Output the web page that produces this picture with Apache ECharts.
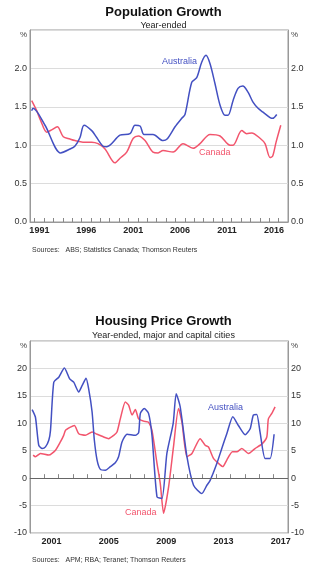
<!DOCTYPE html>
<html>
<head>
<meta charset="utf-8">
<script src="https://cdn.jsdelivr.net/npm/echarts@6/dist/echarts.min.js"></script>
<style>
html,body{margin:0;padding:0;background:#fff;}
#c{width:327px;height:572px;}
</style>
</head>
<body>
<div id="c"></div>
<script>
// ---- Population growth (year-ended, %) ----
var popAusYears = [1990.68,1990.82,1992.10,1993.77,1994.76,1995.30,1995.83,1996.26,1997.08,1997.61,1998.25,1998.68,2000.09,2001.16,2001.69,2002.23,2002.65,2003.61,2004.68,2005.11,2005.96,2006.67,2007.02,2007.74,2008.27,2008.80,2009.26,2009.69,2010.22,2010.76,2011.29,2011.61,2012.14,2012.67,2013.18,2013.74,2014.27,2014.81,2015.34,2016.09,2016.37,2016.80];
var popAusValues = [1.45,1.48,1.26,0.90,0.95,0.99,1.10,1.26,1.19,1.10,0.99,0.98,1.13,1.15,1.26,1.25,1.14,1.14,1.06,1.08,1.24,1.35,1.40,1.82,1.88,2.08,2.17,2.06,1.80,1.52,1.39,1.39,1.58,1.74,1.77,1.69,1.56,1.48,1.43,1.36,1.35,1.40];
var popCanYears = [1990.68,1991.21,1991.64,1992.28,1992.81,1993.41,1994.05,1994.76,1995.30,1996.15,1997.08,1997.75,1998.50,1999.56,2000.09,2000.81,2001.51,2002.05,2002.76,2003.61,2004.15,2004.68,2005.75,2006.81,2007.88,2008.62,2009.69,2010.76,2011.82,2012.14,2013.07,2013.60,2014.14,2015.02,2015.55,2016.09,2016.37,2016.73,2017.23];
var popCanValues = [1.58,1.45,1.32,1.17,1.20,1.24,1.11,1.08,1.06,1.04,1.04,1.02,0.95,0.77,0.83,0.91,1.09,1.12,1.06,0.91,0.90,0.93,0.91,1.02,0.96,1.02,1.14,1.12,1.00,1.00,1.19,1.15,1.16,1.09,1.02,0.84,0.86,1.04,1.26];

// ---- Housing price growth (year-ended, %) ----
var hpAusYears = [2000.15,2000.38,2000.61,2000.85,2001.08,2001.31,2001.43,2001.66,2002.01,2002.40,2002.77,2003.05,2003.40,2003.64,2003.91,2004.09,2004.33,2004.49,2004.68,2004.91,2005.26,2005.61,2005.95,2006.18,2006.42,2006.77,2007.35,2007.58,2007.70,2007.97,2008.27,2008.51,2008.86,2009.21,2009.55,2009.99,2010.20,2010.48,2010.95,2011.41,2011.99,2012.34,2012.57,2013.04,2013.38,2013.73,2014.15,2014.54,2015.01,2015.36,2015.58,2015.82,2016.05,2016.40,2016.75,2017.03];
var hpAusValues = [12.5,11.1,6.0,5.4,5.7,6.9,8.7,17.5,18.4,20.1,18.1,17.5,15.7,16.9,18.2,16.3,12.1,6.9,3.3,1.6,1.45,2.1,2.8,3.9,6.6,8.0,7.8,8.3,11.8,12.7,11.8,7.8,-3.4,-3.7,4.5,10.0,15.4,13.0,3.9,-1.3,-2.8,-1.3,-0.4,2.7,5.4,8.1,11.2,9.6,7.9,9.0,11.5,11.6,8.4,3.6,3.6,8.0];
var hpCanYears = [2000.22,2000.38,2000.73,2001.31,2001.78,2002.12,2002.35,2002.47,2002.82,2003.10,2003.40,2003.86,2004.33,2004.68,2005.14,2005.49,2005.84,2006.07,2006.30,2006.65,2006.88,2007.12,2007.35,2007.58,2007.92,2008.27,2008.51,2008.86,2009.09,2009.32,2009.67,2010.01,2010.36,2010.60,2010.95,2011.30,2011.87,2012.22,2012.45,2012.80,2013.15,2013.45,2013.73,2014.12,2014.43,2014.78,2015.24,2015.70,2016.17,2016.52,2016.63,2016.87,2017.10];
var hpCanValues = [4.2,3.9,4.5,4.2,5.1,6.6,7.8,8.7,9.3,9.6,8.1,7.8,8.4,8.0,7.5,7.2,7.8,8.4,10.8,13.9,13.3,11.5,12.5,10.8,10.4,10.2,8.7,2.7,-1.0,-6.4,-1.6,5.7,12.7,10.2,3.9,4.5,7.2,6.0,5.7,3.6,2.7,2.1,3.3,4.8,4.8,5.4,4.5,5.4,6.2,7.5,10.8,11.8,13.0];

// ---- axis ticks / labels ----
var popTickYears = [];
for (var y = 1991; y <= 2017; y++) popTickYears.push(y);
var popLabelYears = [1991, 1996, 2001, 2006, 2011, 2016];
var hpTickYears = [];
for (var y2 = 2001; y2 <= 2017; y2++) hpTickYears.push(y2);
var hpLabelYears = [2001, 2005, 2009, 2013, 2017];

var BLUE = '#4350c2';
var RED = '#f2556d';
var FONT = 'Liberation Sans, Arial, sans-serif';

function zip(a, b) { return a.map(function (v, i) { return [v, b[i]]; }); }

var chart = echarts.init(document.getElementById('c'), null, { renderer: 'canvas' });

function xAxisFor(gridIndex, min, max, ticks, labels) {
  return {
    type: 'value', gridIndex: gridIndex, min: min, max: max,
    axisLine: { show: true, lineStyle: { color: '#999', width: 1 } },
    axisTick: { show: true, inside: true, length: 4, customValues: ticks, lineStyle: { color: '#888' } },
    axisLabel: {
      customValues: labels.map(function (v) { return v + 0.5; }),
      formatter: function (v) { return String(Math.floor(v)); },
      fontSize: 9, color: '#222', fontFamily: FONT, fontWeight: 'bold', margin: 4
    },
    splitLine: { show: false }
  };
}

function yAxisFor(gridIndex, pos, min, max, interval, fmt, showSplit) {
  return {
    type: 'value', gridIndex: gridIndex, position: pos, min: min, max: max, interval: interval,
    axisLine: { show: true, lineStyle: { color: '#999' } },
    axisTick: { show: false },
    splitLine: { show: showSplit, lineStyle: { color: '#dcdcdc', width: 1 } },
    axisLabel: {
      formatter: fmt, fontSize: 9, color: '#333', fontFamily: FONT, margin: 3,
      rich: { p: { fontSize: 8, color: '#444', fontFamily: FONT, padding: [10, 0, 0, 0] } }
    }
  };
}

var popFmt = function (v) { return v === 2.5 ? '{p|%}' : v.toFixed(1); };
var hpFmt = function (v) { return v === 25 ? '{p|%}' : String(v); };

var option = {
  backgroundColor: '#fff',
  animation: false,
  title: [
    { text: 'Population Growth', left: 'center', top: 1, textStyle: { fontSize: 13, fontWeight: 'bold', color: '#111', fontFamily: FONT } },
    { text: 'Year-ended', left: 'center', top: 16, textStyle: { fontSize: 9, fontWeight: 'normal', color: '#222', fontFamily: FONT } },
    { text: 'Housing Price Growth', left: 'center', top: 310, textStyle: { fontSize: 13, fontWeight: 'bold', color: '#111', fontFamily: FONT } },
    { text: 'Year-ended, major and capital cities', left: 'center', top: 326, textStyle: { fontSize: 9, fontWeight: 'normal', color: '#222', fontFamily: FONT } },
    { text: 'Sources:   ABS; Statistics Canada; Thomson Reuters', left: 27, top: 242, textStyle: { fontSize: 7, fontWeight: 'normal', color: '#333', fontFamily: FONT } },
    { text: 'Sources:   APM; RBA; Teranet; Thomson Reuters', left: 27, top: 552, textStyle: { fontSize: 7, fontWeight: 'normal', color: '#333', fontFamily: FONT } }
  ],
  grid: [
    { left: 30, top: 30, width: 258, height: 192, show: true, borderColor: '#999', borderWidth: 1 },
    { left: 30, top: 341, width: 258, height: 192, show: true, borderColor: '#999', borderWidth: 1 }
  ],
  xAxis: [
    xAxisFor(0, 1990.5, 2018, popTickYears, popLabelYears),
    xAxisFor(1, 2000, 2018, hpTickYears, hpLabelYears)
  ],
  yAxis: [
    yAxisFor(0, 'left', 0, 2.5, 0.5, popFmt, true),
    yAxisFor(0, 'right', 0, 2.5, 0.5, popFmt, false),
    yAxisFor(1, 'left', -10, 25, 5, hpFmt, true),
    yAxisFor(1, 'right', -10, 25, 5, hpFmt, false)
  ],
  series: [
    { type: 'line', xAxisIndex: 0, yAxisIndex: 0, data: zip(popCanYears, popCanValues), showSymbol: false, smooth: 0.3, lineStyle: { color: RED, width: 1.5 }, itemStyle: { color: RED } },
    { type: 'line', xAxisIndex: 0, yAxisIndex: 0, data: zip(popAusYears, popAusValues), showSymbol: false, smooth: 0.3, lineStyle: { color: BLUE, width: 1.5 }, itemStyle: { color: BLUE } },
    { type: 'line', xAxisIndex: 1, yAxisIndex: 2, data: zip(hpCanYears, hpCanValues), showSymbol: false, smooth: 0.2, lineStyle: { color: RED, width: 1.5 }, itemStyle: { color: RED },
      markLine: { silent: true, symbol: 'none', label: { show: false }, lineStyle: { color: '#666', width: 1, type: 'solid' }, data: [{ yAxis: 0 }] } },
    { type: 'line', xAxisIndex: 1, yAxisIndex: 2, data: zip(hpAusYears, hpAusValues), showSymbol: false, smooth: 0.2, lineStyle: { color: BLUE, width: 1.5 }, itemStyle: { color: BLUE } }
  ],
  graphic: [
    { type: 'text', left: 162, top: 57, style: { text: 'Australia', fontSize: 9, fill: BLUE, fontFamily: FONT } },
    { type: 'text', left: 199, top: 148, style: { text: 'Canada', fontSize: 9, fill: RED, fontFamily: FONT } },
    { type: 'text', left: 208, top: 403, style: { text: 'Australia', fontSize: 9, fill: BLUE, fontFamily: FONT } },
    { type: 'text', left: 125, top: 508, style: { text: 'Canada', fontSize: 9, fill: RED, fontFamily: FONT } }
  ]
};
chart.setOption(option);
</script>
</body>
</html>
